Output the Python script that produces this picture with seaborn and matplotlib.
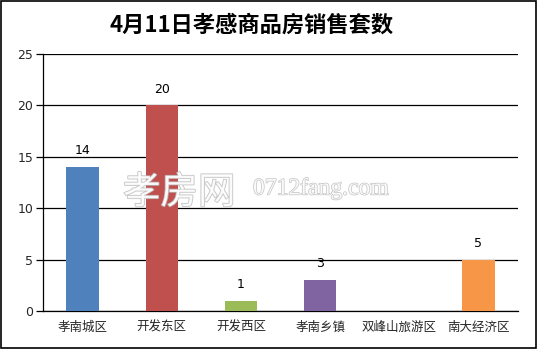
import matplotlib
matplotlib.use("Agg")
import matplotlib.pyplot as plt
import matplotlib.patheffects as pe
import seaborn as sns
import pandas as pd
import numpy as np

categories = ["孝南城区", "开发东区", "开发西区", "孝南乡镇", "双峰山旅游区", "南大经济区"]
values = [14, 20, 1, 3, 0, 5]
colors = ["#4F81BD", "#C0504D", "#9BBB59", "#8064A2", "#4BACC6", "#F79646"]
title = "4月11日孝感商品房销售套数"
yticks = [0, 5, 10, 15, 20, 25]

sns.set_theme(style="white")
plt.rcParams['font.family'] = ['Noto Sans CJK SC', 'DejaVu Sans']

fig = plt.figure(figsize=(5.38, 3.49), dpi=100)
ax = fig.add_axes([43/538, 1-311/349, (518-43)/538, (311-54)/349])

df = pd.DataFrame({"cat": categories, "val": values})
sns.barplot(data=df, x="cat", y="val", hue="cat", palette=colors, legend=False,
            width=0.41, ax=ax, saturation=1, zorder=3, linewidth=0, edgecolor='none')

ax.set_ylim(0, 25)
ax.set_xlim(-0.5, len(categories) - 0.5)
ax.set_yticks(yticks)
ax.set_yticklabels([str(v) for v in yticks], fontsize=9, family='DejaVu Sans')
ax.yaxis.grid(True, color="black", linewidth=0.9, zorder=0)
ax.set_axisbelow(True)
ax.set_xlabel("")
ax.set_ylabel("")
ax.tick_params(axis='x', which='major', length=0, labelsize=9, pad=7)
ax.set_xticks(np.arange(-0.5, len(categories)), minor=True)
ax.tick_params(axis='x', which='minor', length=5, width=0.9, color='black', direction='out')
ax.tick_params(axis='y', length=5, width=0.9, color='black', direction='out', left=True, pad=2)
for s in ['top', 'right']:
    ax.spines[s].set_visible(False)
for s in ['left', 'bottom']:
    ax.spines[s].set_color('black')
    ax.spines[s].set_linewidth(0.9)

for p, v in zip(ax.patches, values):
    if v > 0:
        ax.annotate(str(v), (p.get_x() + p.get_width()/2, p.get_height()),
                    xytext=(0, 7), textcoords='offset points', ha='center', va='bottom',
                    fontsize=9, family='DejaVu Sans', color='black')

fig.text(252/538, 1-25/349, title, ha='center', va='center', fontsize=16,
         fontweight='bold', color='black')

# watermark
fig.text(123/538, 1-193/349, "孝房网", ha='left', va='center', fontsize=27, color='white',
         alpha=0.85, path_effects=[pe.withStroke(linewidth=1.2, foreground='#bbbbbb')], zorder=10)
fig.text(253/538, 1-189/349, "0712fang.com", ha='left', va='center', fontsize=17, color='white',
         family='Liberation Serif', alpha=0.85,
         path_effects=[pe.withStroke(linewidth=1.0, foreground='#bbbbbb')], zorder=10)

# outer border
fig.patches.append(plt.Rectangle((0.002, 0.003), 0.995, 0.994, transform=fig.transFigure,
                                 fill=False, edgecolor='black', linewidth=1.2))

fig.savefig("out.png", dpi=100)
